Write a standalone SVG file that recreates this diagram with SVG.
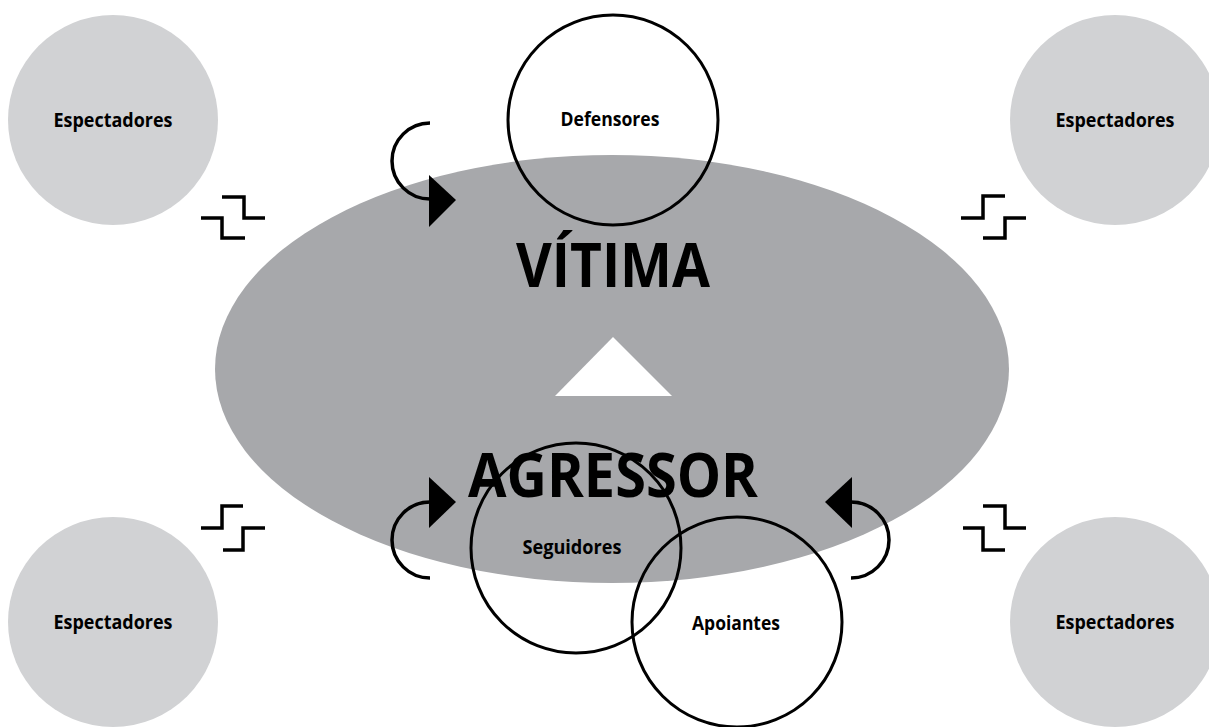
<svg xmlns="http://www.w3.org/2000/svg" width="1209" height="727" viewBox="0 0 1209 727">
<style>
.spec{fill:#d1d2d4}
.ring{fill:none;stroke:#000;stroke-width:3}
.lbl{font-family:"Open Sans","Liberation Sans",sans-serif;font-weight:700;font-size:19px;fill:#000;text-anchor:middle}
.big{font-family:"Open Sans","Liberation Sans",sans-serif;font-weight:700;font-size:60px;fill:#000;text-anchor:middle}
.step{fill:none;stroke:#000;stroke-width:3.5}
.arc{fill:none;stroke:#000;stroke-width:3.5}
</style>
<rect width="1209" height="727" fill="#fff"/>
<g id="espectadores-tl"><circle class="spec" cx="113" cy="120" r="105"/><text class="lbl" x="113" y="127" textLength="119" lengthAdjust="spacingAndGlyphs">Espectadores</text></g>
<g id="espectadores-tr"><circle class="spec" cx="1115" cy="120" r="105"/><text class="lbl" x="1115" y="127" textLength="119" lengthAdjust="spacingAndGlyphs">Espectadores</text></g>
<g id="espectadores-bl"><circle class="spec" cx="113" cy="622" r="105"/><text class="lbl" x="113" y="629" textLength="119" lengthAdjust="spacingAndGlyphs">Espectadores</text></g>
<g id="espectadores-br"><circle class="spec" cx="1115" cy="622" r="105"/><text class="lbl" x="1115" y="629" textLength="119" lengthAdjust="spacingAndGlyphs">Espectadores</text></g>
<g id="centro">
<ellipse cx="612" cy="369" rx="397" ry="214" fill="#a7a8ab"/>
<text class="big" x="613" y="287" textLength="194" lengthAdjust="spacingAndGlyphs">VÍTIMA</text>
<polygon points="613,337 672,396 555,396" fill="#fff"/>
<text class="big" x="613" y="497" textLength="290" lengthAdjust="spacingAndGlyphs">AGRESSOR</text>
</g>
<g id="defensores"><circle class="ring" cx="613" cy="120" r="105"/><text class="lbl" x="610" y="126" textLength="99" lengthAdjust="spacingAndGlyphs">Defensores</text></g>
<g id="seguidores"><circle class="ring" cx="576" cy="548" r="105"/><text class="lbl" x="572" y="554" textLength="99" lengthAdjust="spacingAndGlyphs">Seguidores</text></g>
<g id="apoiantes"><circle class="ring" cx="737" cy="622" r="105"/><text class="lbl" x="736" y="630" textLength="88" lengthAdjust="spacingAndGlyphs">Apoiantes</text></g>
<g id="connectors">
<path class="step" d="M222,197H244V218H265M201,218H222V238H245"/>
<path class="step" d="M961,218H983V196H1005M983,238H1005V218H1026"/>
<path class="step" d="M201,528H222V506H243M223,550H243V528H265"/>
<path class="step" d="M983,506H1005V528H1026M963,528H983V550H1005"/>
<path class="arc" d="M430,123A38,38 0 0 0 430,199"/>
<polygon points="429,175 429,227 456,200"/>
<path class="arc" d="M430,502A38,38 0 0 0 430,578"/>
<polygon points="429,477 429,528 456,502"/>
<path class="arc" d="M851,502A38,38 0 0 1 851,578"/>
<polygon points="852,477 852,528 825,502"/>
</g>
</svg>
